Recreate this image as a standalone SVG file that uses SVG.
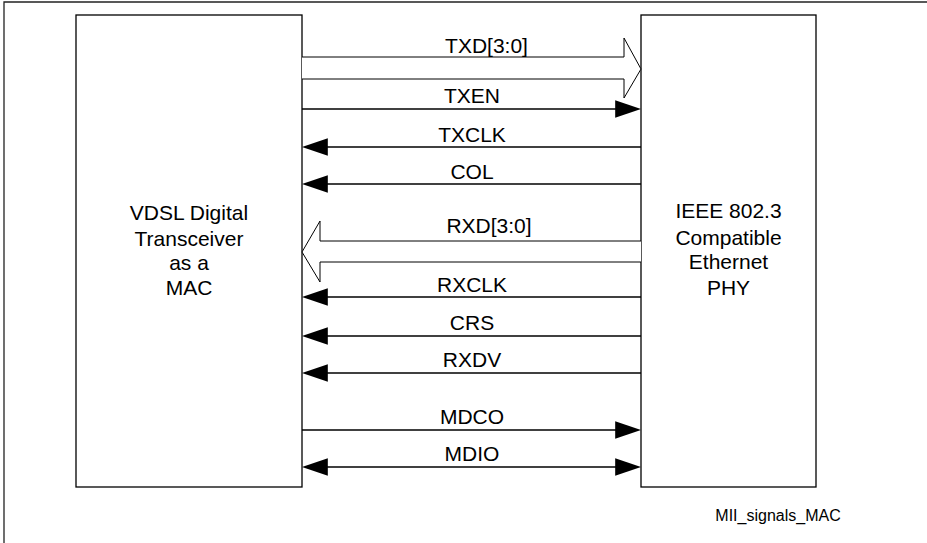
<svg xmlns="http://www.w3.org/2000/svg" width="927" height="543" viewBox="0 0 927 543">
<style>
  .box { fill: #fff; stroke: #000; stroke-width: 1.3; }
  .frame { fill: none; stroke: #222; stroke-width: 1.3; }
  .sig { fill: none; stroke: #000; stroke-width: 1.6; }
  .bus { fill: #fff; stroke: #000; stroke-width: 1; }
  .lbl { font-family: "Liberation Sans", Arial, sans-serif; font-size: 21px; fill: #000; text-anchor: middle; }
  .cap { font-family: "Liberation Sans", Arial, sans-serif; font-size: 16px; fill: #000; text-anchor: middle; }
</style>
<defs>
  <marker id="ah" markerUnits="userSpaceOnUse" markerWidth="26" markerHeight="18" viewBox="0 0 25 17" refX="21" refY="8.5" orient="auto-start-reverse">
    <path d="M0,0 L25,8.5 L0,17 Z" fill="#000"/>
  </marker>
</defs>
<rect width="927" height="543" fill="#fff"/>
<path class="frame" d="M4,543 L4,2 L927,2"/>

<g id="mac">
  <rect class="box" x="76" y="15" width="226" height="472"/>
  <text class="lbl" x="189" y="220">VDSL Digital</text>
  <text class="lbl" x="189" y="246">Transceiver</text>
  <text class="lbl" x="189" y="270">as a</text>
  <text class="lbl" x="189" y="295">MAC</text>
</g>

<g id="phy">
  <rect class="box" x="641" y="15" width="175" height="472"/>
  <text class="lbl" x="728.5" y="218">IEEE 802.3</text>
  <text class="lbl" x="728.5" y="245">Compatible</text>
  <text class="lbl" x="728.5" y="269">Ethernet</text>
  <text class="lbl" x="728.5" y="295">PHY</text>
</g>

<g id="connectors">
  <path class="bus" d="M302,57 L624,57 L624,38 L641,69 L624,98 L624,79 L302,79"/>
  <text class="lbl" x="486.5" y="53">TXD[3:0]</text>

  <line class="sig" x1="302" y1="109" x2="637" y2="109" marker-end="url(#ah)"/>
  <text class="lbl" x="472" y="103">TXEN</text>

  <line class="sig" x1="641" y1="147" x2="306" y2="147" marker-end="url(#ah)"/>
  <text class="lbl" x="472" y="141.5">TXCLK</text>

  <line class="sig" x1="641" y1="184" x2="306" y2="184" marker-end="url(#ah)"/>
  <text class="lbl" x="472" y="179">COL</text>

  <path class="bus" d="M641,241 L320,241 L320,221 L302,252 L320,282 L320,262 L641,262"/>
  <text class="lbl" x="489" y="233">RXD[3:0]</text>

  <line class="sig" x1="641" y1="297" x2="306" y2="297" marker-end="url(#ah)"/>
  <text class="lbl" x="472" y="292">RXCLK</text>

  <line class="sig" x1="641" y1="336" x2="306" y2="336" marker-end="url(#ah)"/>
  <text class="lbl" x="472" y="330">CRS</text>

  <line class="sig" x1="641" y1="373" x2="306" y2="373" marker-end="url(#ah)"/>
  <text class="lbl" x="472" y="367">RXDV</text>

  <line class="sig" x1="302" y1="430" x2="637" y2="430" marker-end="url(#ah)"/>
  <text class="lbl" x="472" y="424">MDCO</text>

  <line class="sig" x1="306" y1="467" x2="637" y2="467" marker-start="url(#ah)" marker-end="url(#ah)"/>
  <text class="lbl" x="472" y="461">MDIO</text>
</g>

<text class="cap" x="778" y="521">MII_signals_MAC</text>
</svg>
